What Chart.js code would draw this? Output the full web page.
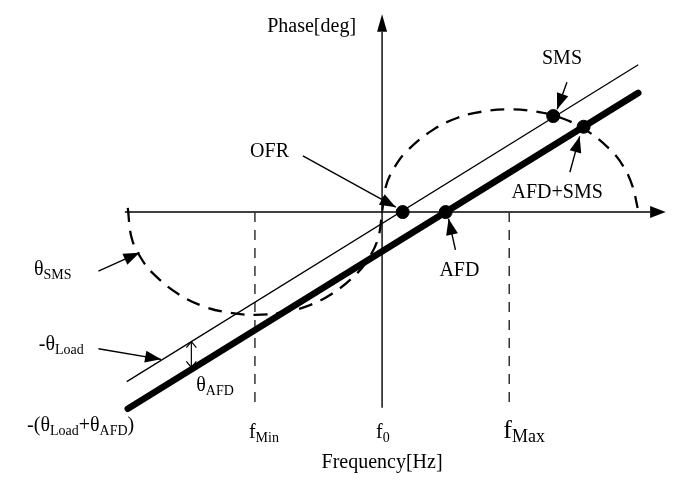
<!DOCTYPE html>
<html>
<head>
<meta charset="utf-8">
<script src="https://cdn.jsdelivr.net/npm/chart.js@4/dist/chart.umd.min.js"></script>
<style>
  html, body { margin: 0; padding: 0; background: #fff; }
  #wrap { width: 681px; height: 488px; position: relative; }
</style>
</head>
<body>
<div id="wrap"><canvas id="c"></canvas></div>
<script>
// frequency in units of (fMax - f0), phase in units of the SMS amplitude
const tickNames = ["fMin", "f0", "fMax"]
const tickFreqs = [-1, 0, 1]

// phase of the load (-θLoad), thin line
const loadLine = [{ x: -2.008, y: -1.651 }, { x: 2.015, y: 1.434 }]
// load phase shifted by AFD (-(θLoad+θAFD)), thick line
const afdLine = [{ x: -2.0, y: -1.915 }, { x: 2.015, y: 1.16 }]

// SMS phase curve (dashed)
const smsFreq = [-2.0, -1.97, -1.9, -1.8, -1.6, -1.4, -1.2, -1.0, -0.8, -0.6, -0.4, -0.2, -0.1, -0.03, 0,
  0.03, 0.1, 0.2, 0.4, 0.6, 0.8, 1.0, 1.2, 1.4, 1.6, 1.8, 1.9, 1.97, 2.01]
const smsPhase = [0.04, -0.25, -0.44, -0.6, -0.8, -0.92, -0.98, -1.0, -0.98, -0.92, -0.8, -0.6, -0.44, -0.25, 0,
  0.25, 0.44, 0.6, 0.8, 0.92, 0.98, 1.0, 0.98, 0.92, 0.8, 0.6, 0.44, 0.25, 0.04]

// operating points
const opNames = ["OFR", "AFD", "SMS", "AFD+SMS"]
const opFreq = [0.162, 0.5, 1.346, 1.585]
const opPhase = [0, 0, 0.934, 0.83]

const axisLeft = -2.023, axisRight = 2.108, axisTipX = 2.231
const axisBottom = -1.906, axisTop = 1.755, axisTipY = 1.925

const FONT = "'Liberation Serif', 'Times New Roman', serif"

// text labels: [text, sub?] parts, anchor in data units
const labels = [
  { parts: [["Phase[deg]"]], x: -0.554, y: 1.755, align: "center" },
  { parts: [["SMS"]], x: 1.415, y: 1.443, align: "center" },
  { parts: [["OFR"]], x: -0.885, y: 0.538, align: "center" },
  { parts: [["AFD+SMS"]], x: 1.377, y: 0.132, align: "center" },
  { parts: [["AFD"]], x: 0.608, y: -0.623, align: "center" },
  { parts: [["θ"], ["SMS", 1]], x: -2.738, y: -0.613, align: "left" },
  { parts: [["-θ"], ["Load", 1]], x: -2.7, y: -1.34, align: "left" },
  { parts: [["θ"], ["AFD", 1]], x: -1.462, y: -1.745, align: "left" },
  { parts: [["-(θ"], ["Load", 1], ["+θ"], ["AFD", 1], [")"]], x: -2.792, y: -2.132, align: "left" },
  { parts: [["Frequency[Hz]"]], x: 0.0, y: -2.491, align: "center" }
]

// callout arrows: from -> tip, data units
const callouts = [
  [-0.623, 0.547, 0.108, 0.047],
  [-2.231, -0.575, -1.908, -0.396],
  [-2.231, -1.33, -1.738, -1.434],
  [0.577, -0.368, 0.523, -0.066],
  [1.454, 1.264, 1.377, 1.0],
  [1.477, 0.387, 1.554, 0.736]
]
const gapAt = -1.5 // where θAFD is marked between the two lines

function lineAt(seg, x) {
  const a = seg[0], b = seg[1]
  return a.y + (x - a.x) * (b.y - a.y) / (b.x - a.x)
}

function head(ctx, x0, y0, x1, y1, len, half, filled) {
  const ang = Math.atan2(y1 - y0, x1 - x0)
  const bx = x1 - len * Math.cos(ang), by = y1 - len * Math.sin(ang)
  const nx = -Math.sin(ang) * half, ny = Math.cos(ang) * half
  ctx.beginPath()
  ctx.moveTo(bx + nx, by + ny)
  ctx.lineTo(x1, y1)
  ctx.lineTo(bx - nx, by - ny)
  if (filled) { ctx.closePath(); ctx.fill() } else ctx.stroke()
}

function rich(ctx, parts, x, y, align, size) {
  const sub = size * 0.7
  let w = 0
  parts.forEach(p => {
    ctx.font = (p[1] ? sub : size) + "px " + FONT
    w += ctx.measureText(p[0]).width
  })
  let cx = align === "center" ? x - w / 2 : x
  parts.forEach(p => {
    ctx.font = (p[1] ? sub : size) + "px " + FONT
    ctx.fillText(p[0], cx, p[1] ? y + 4 : y)
    cx += ctx.measureText(p[0]).width
  })
}

const decor = {
  id: "decor",
  afterDatasetsDraw(chart) {
    const ctx = chart.ctx
    const xs = chart.scales.x, ys = chart.scales.y
    const X = v => xs.getPixelForValue(v), Y = v => ys.getPixelForValue(v)
    ctx.save()
    ctx.fillStyle = "#000"
    ctx.strokeStyle = "#000"
    ctx.lineWidth = 1.4

    // axis arrowheads
    head(ctx, X(axisRight), Y(0), X(axisTipX), Y(0), X(axisTipX) - X(axisRight), 6, true)
    head(ctx, X(0), Y(axisTop), X(0), Y(axisTipY), Y(axisTop) - Y(axisTipY), 5, true)

    // callouts
    callouts.forEach(c => {
      ctx.beginPath()
      ctx.moveTo(X(c[0]), Y(c[1]))
      ctx.lineTo(X(c[2]), Y(c[3]))
      ctx.stroke()
      head(ctx, X(c[0]), Y(c[1]), X(c[2]), Y(c[3]), 16, 6, true)
    })

    // θAFD double arrow between the lines
    const gx = X(gapAt), gt = Y(lineAt(loadLine, gapAt)), gb = Y(lineAt(afdLine, gapAt))
    ctx.lineWidth = 1.2
    ctx.beginPath()
    ctx.moveTo(gx, gt)
    ctx.lineTo(gx, gb - 2)
    ctx.stroke()
    head(ctx, gx, gb, gx, gt, 6, 5, false)
    head(ctx, gx, gt, gx, gb - 2, 6, 5, false)

    // text
    ctx.textBaseline = "alphabetic"
    ctx.textAlign = "left"
    labels.forEach(l => rich(ctx, l.parts, X(l.x), Y(l.y), l.align, 20))

    // frequency tick labels
    tickNames.forEach((t, i) => {
      const big = t === "fMax"
      const size = big ? 26 : 20
      const x = X(tickFreqs[i]) - 6
      const y = Y(-2.198)
      ctx.font = size + "px " + FONT
      ctx.fillText("f", x, y)
      const w = ctx.measureText("f").width
      ctx.font = (big ? 18 : 14) + "px " + FONT
      ctx.fillText(t.slice(1), x + w, y + 4)
    })
    ctx.restore()
  }
}

const xy = (xsArr, ysArr) => xsArr.map((x, i) => ({ x, y: ysArr[i] }))

new Chart(document.getElementById("c"), {
  type: "scatter",
  data: {
    datasets: [
      {
        label: "operating points",
        data: xy(opFreq, opPhase),
        pointRadius: 6.5,
        pointBackgroundColor: "#000",
        pointBorderColor: "#000",
        showLine: false,
        order: 0
      },
      {
        label: "-(θLoad+θAFD)",
        data: afdLine,
        showLine: true,
        borderColor: "#000",
        borderWidth: 6.5,
        borderCapStyle: "round",
        pointRadius: 0,
        order: 1
      },
      {
        label: "-θLoad",
        data: loadLine,
        showLine: true,
        borderColor: "#000",
        borderWidth: 1.3,
        pointRadius: 0,
        order: 2
      },
      {
        label: "θSMS",
        data: xy(smsFreq, smsPhase),
        showLine: true,
        tension: 0.4,
        borderColor: "#000",
        borderWidth: 2.3,
        borderDash: [14, 9],
        pointRadius: 0,
        order: 3
      },
      {
        label: "fMin",
        data: [{ x: tickFreqs[0], y: 0 }, { x: tickFreqs[0], y: axisBottom }],
        showLine: true,
        borderColor: "#333",
        borderWidth: 1.5,
        borderDash: [10, 8],
        pointRadius: 0,
        order: 4
      },
      {
        label: "fMax",
        data: [{ x: tickFreqs[2], y: 0 }, { x: tickFreqs[2], y: axisBottom }],
        showLine: true,
        borderColor: "#333",
        borderWidth: 1.5,
        borderDash: [10, 8],
        pointRadius: 0,
        order: 4
      },
      {
        label: "frequency axis",
        data: [{ x: axisLeft, y: 0 }, { x: axisRight, y: 0 }],
        showLine: true,
        borderColor: "#000",
        borderWidth: 1.4,
        pointRadius: 0,
        order: 5
      },
      {
        label: "phase axis",
        data: [{ x: 0, y: axisBottom }, { x: 0, y: axisTop }],
        showLine: true,
        borderColor: "#000",
        borderWidth: 1.4,
        pointRadius: 0,
        order: 5
      }
    ]
  },
  options: {
    responsive: true,
    maintainAspectRatio: false,
    animation: false,
    layout: { padding: 0 },
    plugins: { legend: { display: false }, tooltip: { enabled: false } },
    scales: {
      x: { type: "linear", min: -2.946, max: 2.292, display: false },
      y: { type: "linear", min: -2.613, max: 1.991, display: false }
    }
  },
  plugins: [decor]
})
</script>
</body>
</html>
